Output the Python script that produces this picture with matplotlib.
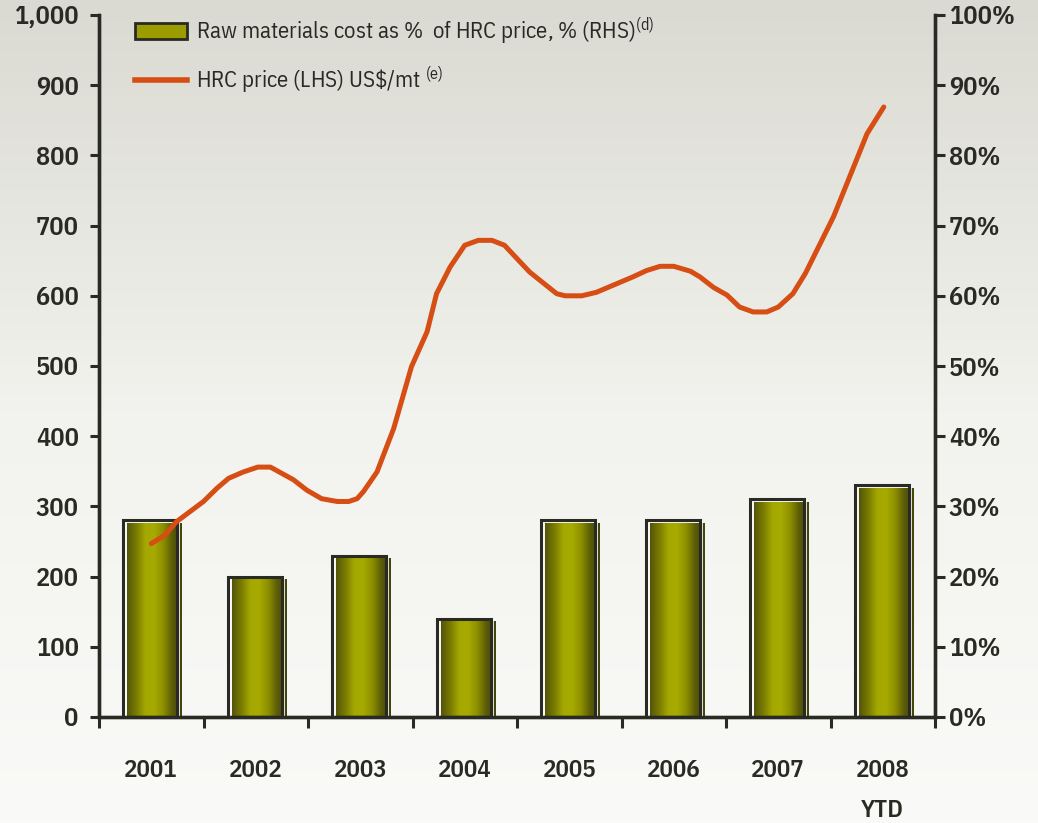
import numpy as np
import matplotlib
matplotlib.use("Agg")
import matplotlib.pyplot as plt
from matplotlib.colors import LinearSegmentedColormap
from matplotlib.patches import Patch, Rectangle
from matplotlib.lines import Line2D
import matplotlib.transforms as mtransforms

plt.rcParams["font.family"] = ["IBM Plex Sans Condensed", "Open Sans", "DejaVu Sans"]
plt.rcParams["mathtext.fontset"] = "custom"
plt.rcParams["mathtext.rm"] = "IBM Plex Sans Condensed"
plt.rcParams["mathtext.it"] = "IBM Plex Sans Condensed"

years = ["2001", "2002", "2003", "2004", "2005", "2006", "2007", "2008\nYTD"]
raw_pct = [28, 20, 23, 14, 28, 28, 31, 33]

# HRC price, time in years after start of 2001
hrc_time = [0.00, 0.13, 0.24, 0.50, 0.63, 0.74, 0.88, 1.02, 1.14, 1.36, 1.49, 1.63,
            1.78, 1.89, 1.97, 2.03, 2.16, 2.32, 2.49, 2.64, 2.73, 2.86, 3.00, 3.13,
            3.26, 3.38, 3.62, 3.72, 3.88, 3.96, 4.12, 4.26, 4.61, 4.74, 4.87, 5.00,
            5.16, 5.25, 5.38, 5.51, 5.63, 5.76, 5.89, 6.00, 6.14, 6.26, 6.53, 6.85, 7.01]
hrc_price = [247, 259, 278, 307, 326, 340, 349, 356, 356, 338, 323, 311,
             307, 307, 311, 321, 349, 411, 499, 549, 603, 641, 672, 679,
             679, 672, 634, 622, 603, 600, 600, 605, 627, 636, 642, 642,
             635, 627, 612, 601, 584, 577, 577, 584, 603, 632, 713, 831, 869]

left_ticks = [0, 100, 200, 300, 400, 500, 600, 700, 800, 900, 1000]
right_ticks = [0, 10, 20, 30, 40, 50, 60, 70, 80, 90, 100]

DARK = "#2a2a24"
ORANGE = "#d64e14"

fig = plt.figure(figsize=(10.38, 8.23), dpi=100)

# background gradient
bg = fig.add_axes([0, 0, 1, 1])
bg.axis("off")
grad_bg = np.linspace(0, 1, 256).reshape(-1, 1)
bg_cmap = LinearSegmentedColormap.from_list("bg", ["#dadad2", "#f2f2ee", "#fafaf8"])
bg.imshow(grad_bg, aspect="auto", cmap=bg_cmap, extent=[0, 1, 0, 1], origin="upper")

ax = fig.add_axes([99 / 1038, 1 - 717 / 823, 836 / 1038, 702 / 823])
ax2 = ax.twinx()
ax.set_zorder(ax2.get_zorder() + 1)
ax.patch.set_visible(False)
ax2.patch.set_visible(False)

x = np.arange(len(years))
bar_w = 0.52
bars = ax2.bar(x, raw_pct, width=bar_w, color="none", edgecolor="none", zorder=2)

bar_cmap = LinearSegmentedColormap.from_list(
    "olive", ["#55560a", "#7a7c00", "#a4a800", "#a6aa00", "#8c8e00", "#5a5b08", "#44450c"])
grad = np.linspace(0, 1, 64).reshape(1, -1)
shift = mtransforms.ScaledTranslation(3 / 100, -3 / 100, fig.dpi_scale_trans)
inner = mtransforms.ScaledTranslation(1 / 100, -1 / 100, fig.dpi_scale_trans)
back = mtransforms.ScaledTranslation(-1 / 100, 0, fig.dpi_scale_trans)
for b in bars:
    x0, w, h = b.get_x(), b.get_width(), b.get_height()
    ax2.imshow(grad, cmap=bar_cmap, aspect="auto", extent=[x0, x0 + w, 0, h],
               zorder=2, transform=ax2.transData + shift)
    ax2.add_patch(Rectangle((x0, 0), w, h, fill=False, edgecolor="white", lw=1.2,
                            zorder=3, transform=ax2.transData + inner))
    ax2.add_patch(Rectangle((x0, 0), w, h, fill=False, edgecolor=DARK, lw=2.2,
                            zorder=3, transform=ax2.transData + back))

ax.plot(hrc_time, hrc_price, color=ORANGE, lw=3.6, solid_capstyle="round",
        solid_joinstyle="round", zorder=5)

ax.set_xlim(-0.5, len(years) - 0.5)
ax2.set_xlim(-0.5, len(years) - 0.5)
ax.set_ylim(0, 1000)
ax2.set_ylim(0, 100)

ax.set_yticks(left_ticks)
ax.set_yticklabels([f"{v:,}" for v in left_ticks])
ax2.set_yticks(right_ticks)
ax2.set_yticklabels([f"{v}%" for v in right_ticks])

ax.set_xticks(np.arange(len(years) + 1) - 0.5)
ax.set_xticklabels([])
ax.set_xticks(x, minor=True)
ax.set_xticklabels(years, minor=True, fontsize=18, fontweight=600, color=DARK,
                   linespacing=1.95, va="top")
ax.tick_params(axis="x", which="minor", length=0, pad=30)
ax.tick_params(axis="x", which="major", length=8, width=2.2, color=DARK, direction="out")

ax.tick_params(axis="y", length=6.5, width=2.2, color=DARK, pad=8,
               labelsize=19, labelcolor=DARK)
ax2.tick_params(axis="y", length=7, width=2.2, color=DARK, pad=3,
                labelsize=19, labelcolor=DARK)
for lab in ax.get_yticklabels() + ax2.get_yticklabels():
    lab.set_fontweight(600)

for a in (ax, ax2):
    a.spines["top"].set_visible(False)
    for s in ("left", "right", "bottom"):
        a.spines[s].set_color(DARK)
        a.spines[s].set_linewidth(2.4)
ax2.tick_params(axis="x", length=0)

handles = [Patch(facecolor="#9a9c00", edgecolor=DARK, lw=2),
           Line2D([0], [0], color=ORANGE, lw=4)]
labels = ["Raw materials cost as %  of HRC price, % (RHS)$^{\\rm (d)}$",
          "HRC price (LHS) US$\\$$/mt $^{\\rm (e)}$"]
leg = ax.legend(handles, labels, loc="upper left", bbox_to_anchor=(114 / 1038, 1 + 5 / 823),
                bbox_transform=fig.transFigure, frameon=False, fontsize=16.5,
                handlelength=2.3, handleheight=0.7, handletextpad=0.37, labelspacing=0.75)
for t in leg.get_texts():
    t.set_color(DARK)

fig.savefig("out.png", dpi=100)
